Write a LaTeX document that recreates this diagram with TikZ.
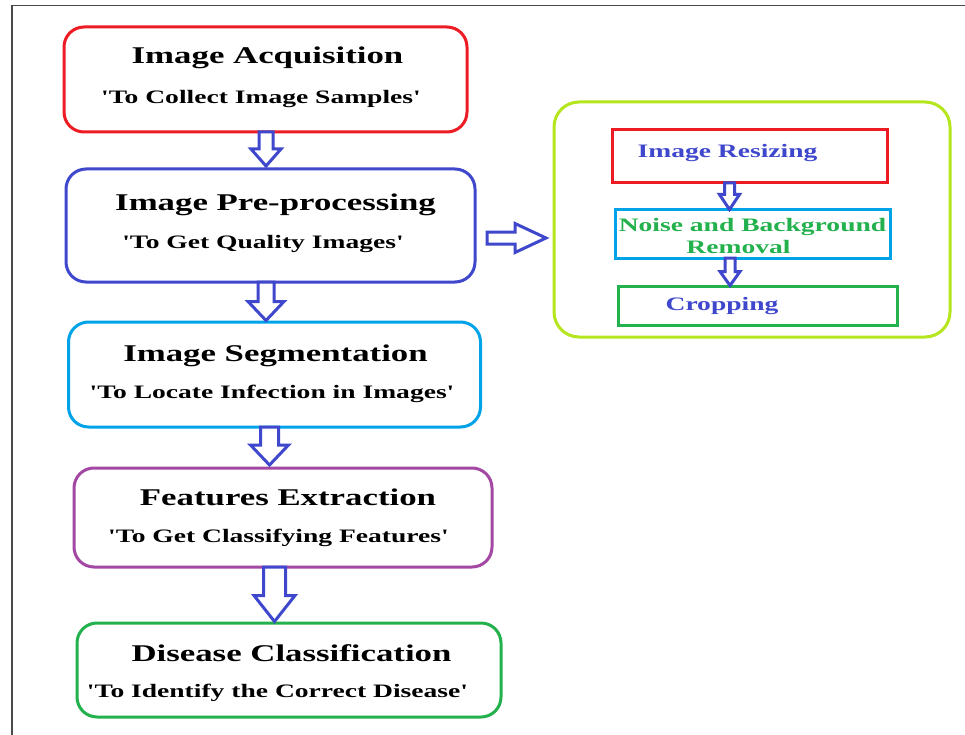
\documentclass[tikz,border=0pt]{standalone}
\usepackage{fontspec}
\setmainfont{Liberation Serif}
\newfontfamily\widefont[FakeStretch=1.45]{Liberation Serif}
\usetikzlibrary{calc}

\definecolor{pRed}{HTML}{ED1C24}
\definecolor{pIndigo}{HTML}{3F48CC}
\definecolor{pCyan}{HTML}{00A2E8}
\definecolor{pPurple}{HTML}{A349A4}
\definecolor{pGreen}{HTML}{22B14C}
\definecolor{pLime}{HTML}{B5E61D}
\definecolor{frameGray}{HTML}{4A4A4A}

\tikzset{
  stage/.style={draw=#1, line width=3pt, rounded corners=20pt, inner sep=0pt, outer sep=0pt},
  substage/.style={draw=#1, line width=3pt, inner sep=0pt, outer sep=0pt},
  titletext/.style={anchor=base, inner sep=0pt,
    font=\widefont\bfseries\fontsize{24}{28}\selectfont},
  subtext/.style={anchor=base, inner sep=0pt,
    font=\widefont\bfseries\fontsize{19}{22}\selectfont},
  steptext/.style={anchor=base, inner sep=0pt, text=#1,
    font=\widefont\bfseries\fontsize{19}{21}\selectfont},
  hollow/.style={draw=pIndigo, line width=3pt, line join=miter, fill=white},
}

% hollow block arrow pointing down: from, to, x offset, shaft half-width, head half-width, head length, gap
\newcommand\hollowdown[7]{%
  \draw[hollow] let \p1=($(#1.south)+(#3pt,0pt)$), \p2=($(#2.north)+(0pt,#7pt)$) in
    (\x1-#4pt,\y1) -- (\x1-#4pt,\y2+#6pt) -- (\x1-#5pt,\y2+#6pt) -- (\x1,\y2)
    -- (\x1+#5pt,\y2+#6pt) -- (\x1+#4pt,\y2+#6pt) -- (\x1+#4pt,\y1) -- cycle;}

\begin{document}
\begin{tikzpicture}[x=1pt,y=-1pt]
  \useasboundingbox (0,0) rectangle (965,735);
  \fill[white] (0,0) rectangle (965,735);

  % page frame
  \draw[frameGray, line width=1.6pt] (967,5.5) -- (12,5.5) -- (12,737);

  % main pipeline
  \node[stage=pRed,    minimum width=403pt, minimum height=105pt] (acq)  at (265.5,79.5) {};
  \node[stage=pIndigo, minimum width=409pt, minimum height=113pt] (pre)  at (270.5,225.5) {};
  \node[stage=pCyan,   minimum width=412pt, minimum height=105pt] (seg)  at (274.5,374.5) {};
  \node[stage=pPurple, minimum width=418pt, minimum height=99pt]  (feat) at (283,517.5) {};
  \node[stage=pGreen,  minimum width=424pt, minimum height=94pt]  (dis)  at (289,670) {};

  \node[titletext] (acqT)  at (267.5,63.3)  {Image Acquisition};
  \node[subtext]   (acqS)  at (261,103.3)   {'To Collect Image Samples'};
  \node[titletext] (preT)  at (275.5,210.7) {Image Pre-processing};
  \node[subtext]   (preS)  at (263,248.3)   {'To Get Quality Images'};
  \node[titletext] (segT)  at (275.5,361.7) {Image Segmentation};
  \node[subtext]   (segS)  at (272,398.3)   {'To Locate Infection in Images'};
  \node[titletext] (featT) at (288,505)     {Features Extraction};
  \node[subtext]   (featS) at (278.5,542.7) {'To Get Classifying Features'};
  \node[titletext] (disT)  at (291.5,661.7) {Disease Classification};
  \node[subtext]   (disS)  at (277.5,697.7) {'To Identify the Correct Disease'};

  % pre-processing detail
  \node[stage=pLime, rounded corners=25pt, minimum width=396pt, minimum height=235pt] (grp) at (752,219.5) {};
  \node[substage=pRed,   minimum width=275pt, minimum height=53pt] (rsz) at (749.5,156.5) {};
  \node[substage=pCyan,  minimum width=275pt, minimum height=48pt] (nbr) at (752.5,234) {};
  \node[substage=pGreen, minimum width=279pt, minimum height=39pt] (crp) at (757.5,305.5) {};

  \node[steptext=pIndigo] (rszT)  at (727.5,157.7) {Image Resizing};
  \node[steptext=pGreen]  (nbrT1) at (752.5,231.7) {Noise and Background};
  \node[steptext=pGreen]  (nbrT2) at (738.5,253.3) {Removal};
  \node[steptext=pIndigo] (crpT)  at (722,310)     {Cropping};

  % flow arrows
  \hollowdown{acq}{pre}{0.5}{7}{15}{17}{3}
  \hollowdown{pre}{seg}{-4.5}{8}{18}{19}{1.5}
  \hollowdown{seg}{feat}{-5}{9}{19}{20}{3}
  \hollowdown{feat}{dis}{-8.5}{11}{20.5}{26}{1.5}
  \hollowdown{rsz}{nbr}{-20}{5}{10}{15}{0.5}
  \hollowdown{nbr}{crp}{-22.5}{5}{10}{14}{0.5}

  \draw[hollow] let \p1=(pre.east), \p2=(grp.west) in
    (\x1+12pt,\y1-6.5pt) -- (\x2-39pt,\y1-6.5pt) -- (\x2-39pt,\y1+2pt) -- (\x2-8pt,\y1-12.5pt)
    -- (\x2-39pt,\y1-27pt) -- (\x2-39pt,\y1-18.5pt) -- (\x1+12pt,\y1-18.5pt) -- cycle;
\end{tikzpicture}
\end{document}
